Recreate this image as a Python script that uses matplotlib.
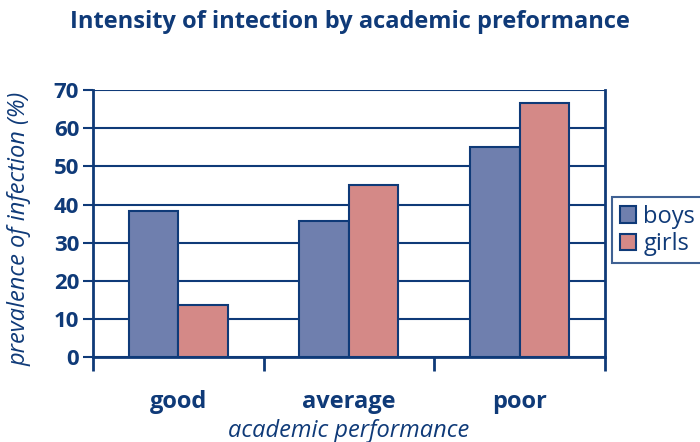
import numpy as np
import matplotlib.pyplot as plt

# data
categories = ["good", "average", "poor"]
boys = [38.3, 35.8, 55.1]
girls = [13.7, 45.2, 66.6]

navy = "#0f3a78"
boys_col = "#6f7fae"
girls_col = "#d48987"

plt.rcParams['font.family'] = ['Open Sans', 'DejaVu Sans']

fig = plt.figure(figsize=(7, 4.42), dpi=100)
ax = fig.add_axes([0.133, 0.192, 0.731, 0.604])

x = np.arange(len(categories))
w = 0.29
ax.bar(x - w / 2, boys, w, color=boys_col, edgecolor=navy, linewidth=1.5, label="boys", zorder=3)
ax.bar(x + w / 2, girls, w, color=girls_col, edgecolor=navy, linewidth=1.5, label="girls", zorder=3)

ax.set_xlim(-0.5, 2.5)
ax.set_ylim(0, 70)
ax.set_yticks(range(0, 71, 10))
ax.yaxis.grid(True, color=navy, linewidth=1.5, zorder=0)

# category labels, divider ticks between groups
ax.set_xticks(x)
ax.set_xticklabels(categories, fontsize=17, fontweight="bold", color=navy)
ax.tick_params(axis="x", which="major", length=0, pad=24)
ax.set_xticks([-0.5, 0.5, 1.5, 2.5], minor=True)
ax.tick_params(axis="x", which="minor", length=10, width=2, color=navy, direction="out")
ax.tick_params(axis="y", length=7, width=1.5, color=navy, labelsize=16, labelcolor=navy, pad=3)
for lbl in ax.get_yticklabels():
    lbl.set_fontweight("bold")

for side in ["left", "right", "bottom"]:
    ax.spines[side].set_color(navy)
    ax.spines[side].set_linewidth(2)
ax.spines["top"].set_visible(False)

ax.set_xlabel("academic performance", fontsize=17, style="italic", color=navy, va="center")
ax.xaxis.set_label_coords(0.5, -0.277)
ax.set_ylabel("prevalence of infection (%)", fontsize=17, style="italic", color=navy, va="center")
ax.yaxis.set_label_coords(-0.143, 0.48)

fig.text(0.5, 0.95, "Intensity of intection by academic preformance", ha="center", va="center",
         fontsize=17, fontweight="bold", color=navy)

leg = ax.legend(loc="center left", bbox_to_anchor=(1.015, 0.475), fontsize=17, frameon=True,
                fancybox=False, handlelength=0.7, handleheight=0.7, handletextpad=0.3,
                borderpad=0.3, labelspacing=0.15, borderaxespad=0)
leg.get_frame().set_edgecolor(navy)
leg.get_frame().set_linewidth(1.5)
for t in leg.get_texts():
    t.set_color(navy)

fig.savefig("out.png", dpi=100)
